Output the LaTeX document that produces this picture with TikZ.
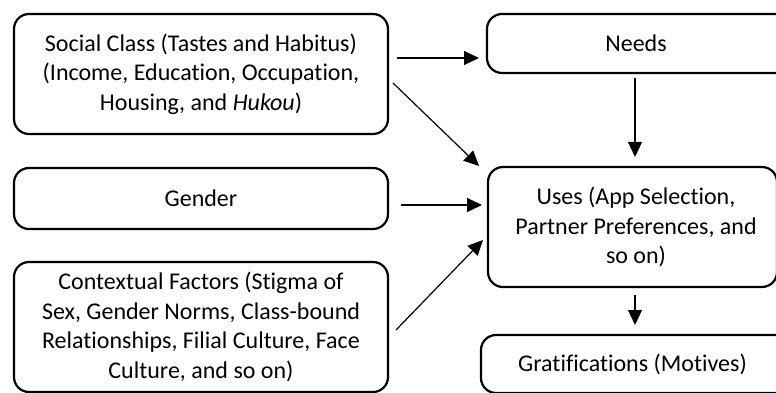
\documentclass[tikz,border=0pt]{standalone}
\usepackage{fontspec}
\setmainfont{Carlito}[Ligatures={NoCommon}]
\usetikzlibrary{arrows.meta}
\begin{document}
\begin{tikzpicture}[x=1pt,y=-1pt,
  box/.style={draw, line width=2.2pt, rounded corners=15pt, align=center,
    inner sep=0pt, font=\fontsize{24pt}{29.5pt}\selectfont},
  conn/.style={line width=1.2pt, -{Triangle[length=15pt,width=14pt]}}]
\useasboundingbox (0,0) rectangle (776,393);
\clip (0,0) rectangle (776,393);
\node[box, minimum width=374pt, minimum height=120pt] (social) at (201,74)
  {Social Class (Tastes and Habitus)\\(Income, Education, Occupation,\\Housing, and \textit{Hukou})};
\node[box, minimum width=374pt, minimum height=61pt] (gender) at (201,198.5) {Gender};
\node[box, minimum width=374pt, minimum height=130pt] (context) at (201,327)
  {Contextual Factors (Stigma of\\Sex, Gender Norms, Class-bound\\Relationships, Filial Culture, Face\\Culture, and so on)};
\node[box, minimum width=313pt, minimum height=59pt] (needs) at (643.5,43.5) {Needs\hspace*{15pt}};
\node[box, minimum width=289pt, minimum height=120pt] (uses) at (632.5,227)
  {\hspace*{7pt}Uses (App Selection,\\\hspace*{7pt}Partner Preferences, and\\\hspace*{7pt}so on)};
\node[box, minimum width=319pt, minimum height=58pt] (grat) at (640.5,364) {Gratifications (Motives)\hspace*{16pt}};
\coordinate (a1s) at (397,58);  \coordinate (a1e) at (479,58);
\coordinate (a2s) at (393,83);  \coordinate (a2e) at (479,166);
\coordinate (a3s) at (635,78);  \coordinate (a3e) at (635,157);
\coordinate (a4s) at (401,205); \coordinate (a4e) at (482,205);
\coordinate (a5s) at (396,330); \coordinate (a5e) at (483,240);
\coordinate (a6s) at (635,295); \coordinate (a6e) at (635,325);
\draw[conn] (a1s) -- (a1e);
\draw[conn] (a2s) -- (a2e);
\draw[conn] (a3s) -- (a3e);
\draw[conn] (a4s) -- (a4e);
\draw[conn] (a5s) -- (a5e);
\draw[conn] (a6s) -- (a6e);
\end{tikzpicture}
\end{document}
